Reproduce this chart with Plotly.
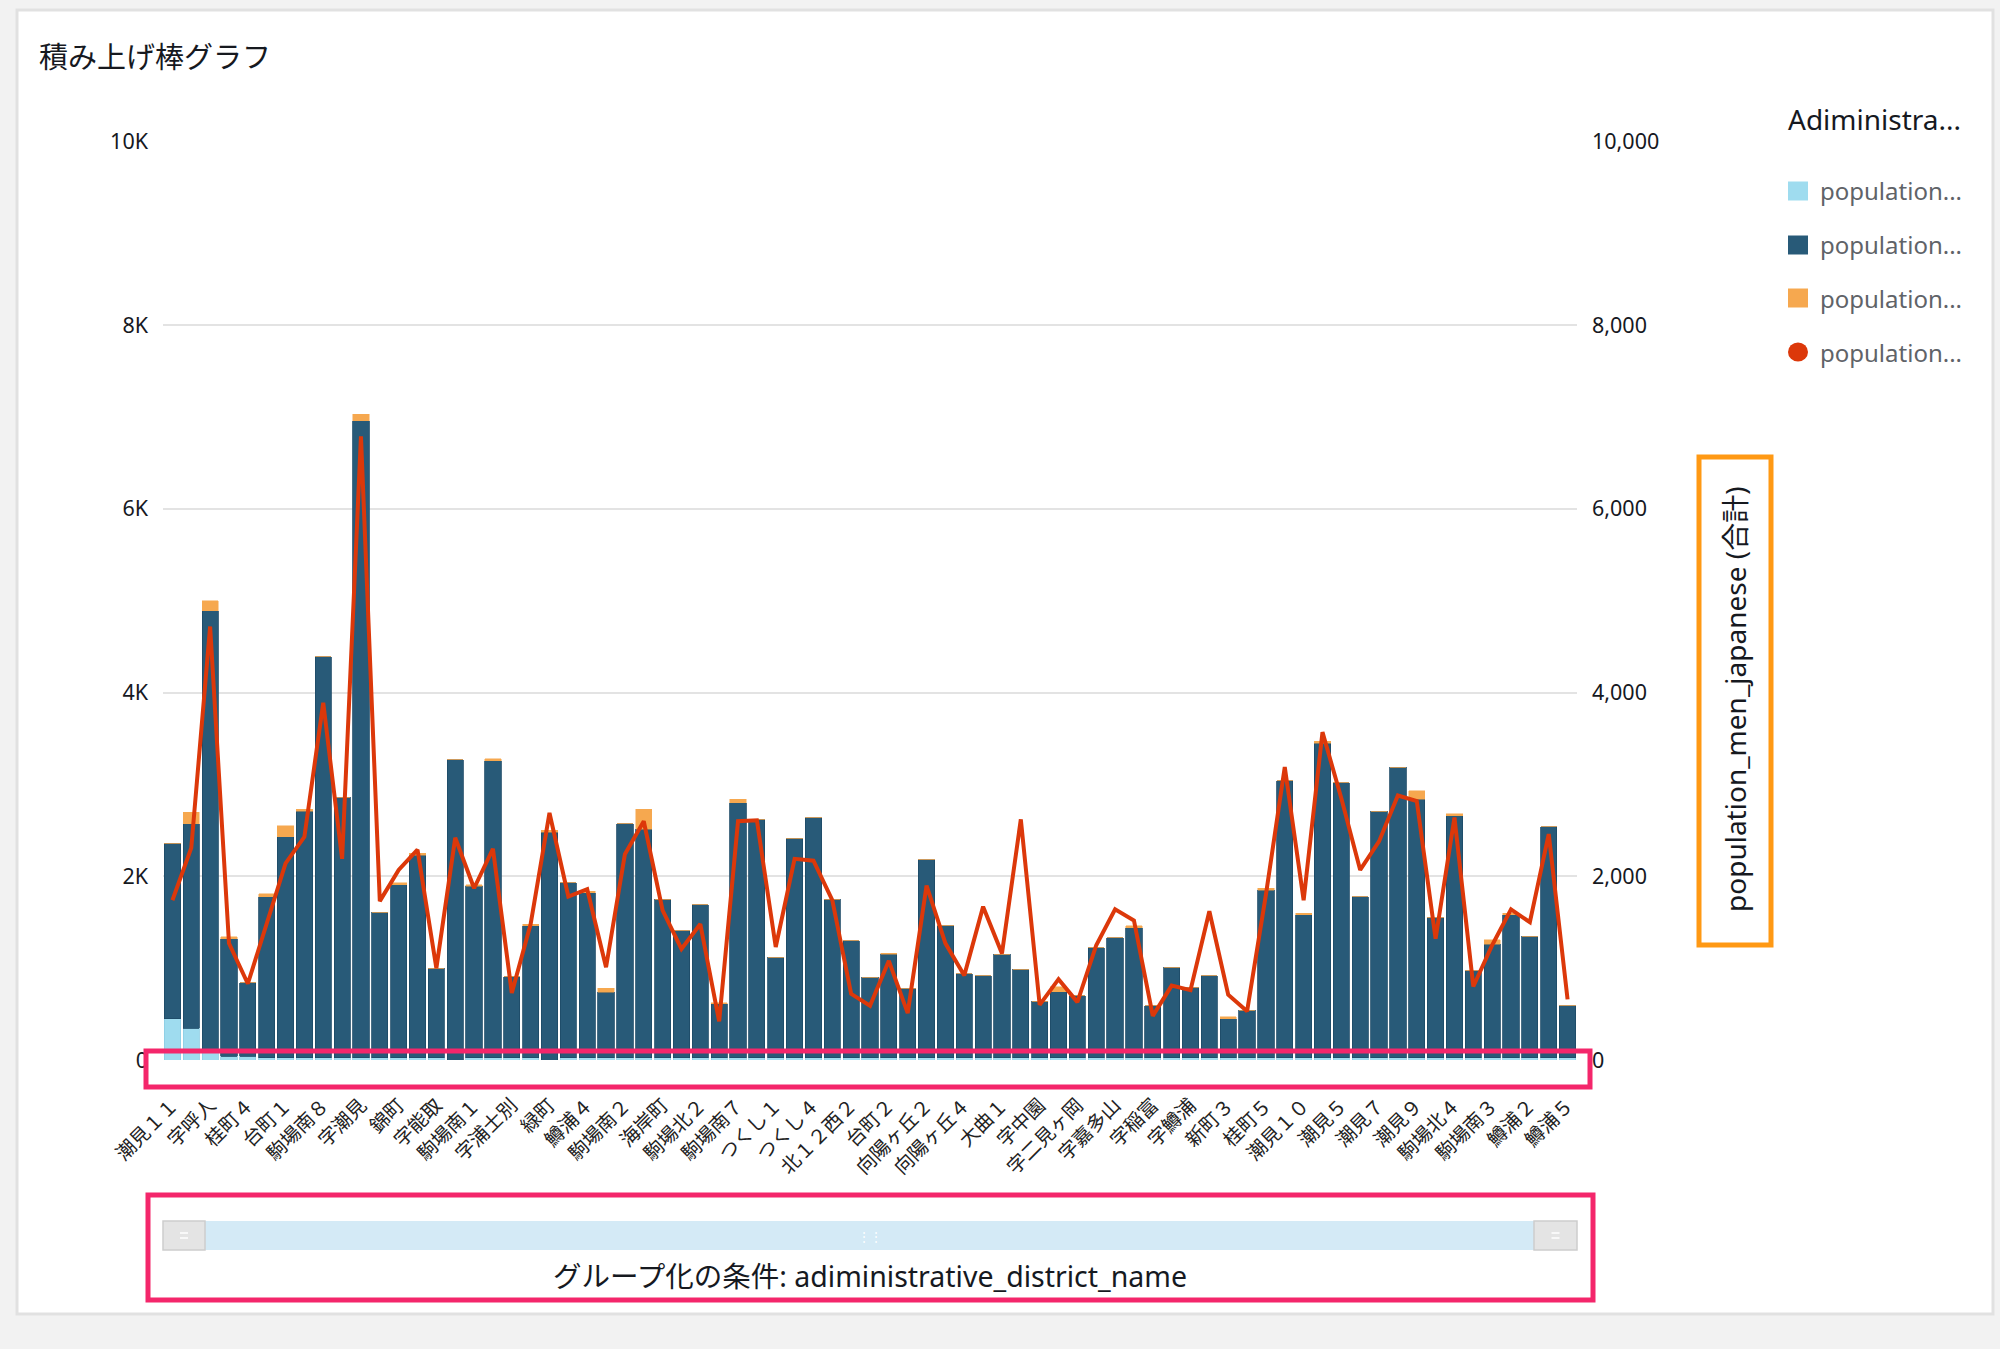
import plotly.graph_objects as go

# ---------------- data ----------------
categories = [
    "潮見１１", "潮見１２", "字呼人", "桂町３", "桂町４", "字藻琴", "台町１", "駒場南９", "駒場南８", "字二ツ岩",
    "字潮見", "南６条東", "錦町", "字八坂", "字能取", "駒場南６", "駒場南１", "字卯原内", "字浦士別", "新町１",
    "緑町", "鱒浦３", "鱒浦４", "駒場南４", "駒場南２", "南４条西", "海岸町", "駒場北１", "駒場北２", "字北浜",
    "駒場南７", "つくし２", "つくし１", "つくし３", "つくし４", "北１２西１", "北１２西２", "台町４", "台町２", "向陽ヶ丘１",
    "向陽ヶ丘２", "向陽ヶ丘３", "向陽ヶ丘４", "大曲２", "大曲１", "字大曲", "字中園", "字三眺", "字二見ヶ岡", "字清浦",
    "字嘉多山", "字丸万", "字稲富", "字山里", "字鱒浦", "新町２", "新町３", "桂町１", "桂町５", "潮見１",
    "潮見１０", "潮見４", "潮見５", "潮見６", "潮見７", "潮見８", "潮見９", "駒場北３", "駒場北４", "駒場南５",
    "駒場南３", "鱒浦１", "鱒浦２", "鱒浦６", "鱒浦５",
]

pop_light = [
    450, 345, 90, 40, 40, 25, 25, 25, 25, 25,
    25, 25, 25, 25, 25, 0, 25, 25, 25, 25,
    0, 25, 25, 25, 25, 25, 25, 25, 25, 25,
    25, 25, 25, 25, 25, 25, 25, 25, 25, 25,
    25, 25, 25, 25, 25, 25, 25, 25, 25, 25,
    25, 25, 25, 25, 25, 25, 25, 25, 25, 25,
    25, 25, 25, 25, 25, 25, 25, 25, 25, 25,
    25, 25, 25, 25, 25,
]

pop_dark = [
    1910, 2225, 4800, 1280, 800, 1755, 2405, 2685, 4365, 2835,
    6935, 1585, 1885, 2205, 975, 3270, 1865, 3235, 880, 1435,
    2480, 1905, 1795, 715, 2545, 2485, 1725, 1385, 1665, 585,
    2775, 2595, 1095, 2390, 2615, 1725, 1275, 875, 1125, 755,
    2155, 1435, 915, 890, 1125, 965, 615, 720, 675, 1195,
    1305, 1415, 565, 985, 765, 895, 425, 515, 1825, 3015,
    1555, 3425, 2995, 1755, 2685, 3165, 2815, 1525, 2635, 945,
    1235, 1555, 1325, 2515, 565,
]

pop_orange = [
    0, 130, 110, 20, 0, 30, 120, 20, 0, 0,
    70, 0, 20, 20, 0, 0, 20, 20, 0, 20,
    20, 0, 20, 40, 0, 220, 0, 0, 0, 15,
    40, 0, 0, 0, 0, 0, 0, 0, 15, 0,
    0, 0, 0, 0, 0, 0, 0, 55, 0, 0,
    0, 20, 0, 0, 0, 0, 20, 0, 20, 0,
    20, 20, 0, 0, 0, 0, 90, 0, 20, 0,
    50, 20, 0, 0, 0,
]

pop_men_japanese = [
    1740, 2310, 4720, 1270, 830, 1480, 2140, 2430, 3890, 2190,
    6790, 1730, 2070, 2290, 1000, 2420, 1870, 2300, 730, 1480,
    2690, 1780, 1860, 1010, 2240, 2600, 1630, 1210, 1480, 420,
    2600, 2610, 1230, 2190, 2170, 1740, 720, 590, 1080, 510,
    1900, 1270, 920, 1670, 1160, 2620, 600, 880, 630, 1250,
    1640, 1520, 480, 810, 760, 1620, 710, 530, 1800, 3190,
    1740, 3570, 2850, 2070, 2380, 2880, 2820, 1320, 2640, 800,
    1250, 1640, 1500, 2460, 660,
]

y_ticks = [0, 2000, 4000, 6000, 8000, 10000]
y_left_text = ["0", "2K", "4K", "6K", "8K", "10K"]
y_right_text = ["0", "2,000", "4,000", "6,000", "8,000", "10,000"]
legend_labels = ["population...", "population...", "population...", "population..."]

# ---------------- style ----------------
W, H = 2000, 1349
FONT = "'Noto Sans', 'Noto Sans CJK JP', sans-serif"
C_LIGHT = "#9fdcef"
C_DARK = "#285a78"
C_ORANGE = "#f6a84f"
C_RED = "#dc380a"
PINK = "#f4266b"


def px(x):
    return x / W


def py(y):
    return 1 - y / H


X_DOM = [px(163), px(1577)]
Y_DOM = [py(1060), py(141.6)]

fig = go.Figure()
fig.add_trace(go.Bar(x=categories, y=pop_light, name=legend_labels[0],
                     marker=dict(color=C_LIGHT, line=dict(color="#8ccde3", width=0.8))))
fig.add_trace(go.Bar(x=categories, y=pop_dark, name=legend_labels[1],
                     marker=dict(color=C_DARK, line=dict(color="#1d4a66", width=0.8))))
fig.add_trace(go.Bar(x=categories, y=pop_orange, name=legend_labels[2],
                     marker=dict(color=C_ORANGE, line=dict(color=C_ORANGE, width=0.5))))
fig.add_trace(go.Scatter(x=categories, y=pop_men_japanese, name=legend_labels[3], yaxis="y2",
                         mode="lines", line=dict(color=C_RED, width=4)))

n = len(categories)
tick_positions = [-0.5] + [i + 0.5 for i in range(0, n, 2)]

fig.update_layout(
    template="none",
    width=W, height=H,
    margin=dict(l=0, r=0, t=0, b=0, pad=0),
    paper_bgcolor="#f2f2f2",
    plot_bgcolor="rgba(0,0,0,0)",
    barmode="stack",
    bargap=0.14,
    showlegend=False,
    font=dict(family=FONT, size=20, color="#16191f"),
    xaxis=dict(
        domain=X_DOM, type="category", range=[-0.5, n - 0.5], automargin=False,
        tickmode="array", tickvals=categories[::2], ticktext=categories[::2],
        tickangle=-45, ticks="", showgrid=False, showline=False, zeroline=False,
        tickfont=dict(size=19.5, color="#222"), ticklabelstandoff=29,
    ),
    xaxis2=dict(
        domain=X_DOM, overlaying="x", anchor="y", type="linear", range=[-0.5, n - 0.5], automargin=False,
        tickmode="array", tickvals=tick_positions, showticklabels=False,
        ticks="outside", ticklen=12, tickwidth=2, tickcolor="#000",
        showline=True, linecolor="#000", linewidth=2, showgrid=False, zeroline=False,
    ),
    yaxis=dict(
        domain=Y_DOM, range=[0, 10000], tickmode="array", tickvals=y_ticks, ticktext=y_left_text,
        automargin=False,
        showgrid=True, gridcolor="#e3e3e3", gridwidth=1.5, zeroline=False, showline=False,
        ticks="", ticklabelstandoff=14, tickfont=dict(size=21.5, color="#16191f"),
    ),
    yaxis2=dict(
        domain=Y_DOM, range=[0, 10000], overlaying="y", side="right", anchor="x", automargin=False,
        tickmode="array", tickvals=y_ticks, ticktext=y_right_text,
        showgrid=False, zeroline=False, showline=False, ticks="", ticklabelstandoff=14,
        tickfont=dict(size=21.5, color="#16191f"),
    ),
)

shapes = []
# card
shapes.append(dict(type="rect", xref="paper", yref="paper", x0=px(17), x1=px(1993), y0=py(1314), y1=py(10),
                   fillcolor="white", line=dict(color="#e1e1e1", width=3), layer="below"))
# scroll bar
shapes.append(dict(type="rect", xref="paper", yref="paper", x0=px(163), x1=px(1577), y0=py(1250), y1=py(1221),
                   fillcolor="#d4eaf6", line=dict(width=0), layer="below"))
for a, b in [(163, 205), (1534, 1577)]:
    shapes.append(dict(type="rect", xref="paper", yref="paper", x0=px(a), x1=px(b), y0=py(1250), y1=py(1221),
                       fillcolor="#e4e4e4", line=dict(color="#cdcdcd", width=1.5), layer="below"))
    cx = (a + b) / 2
    for yy in (1233, 1238):
        shapes.append(dict(type="line", xref="paper", yref="paper", x0=px(cx - 4), x1=px(cx + 4),
                           y0=py(yy), y1=py(yy), line=dict(color="white", width=1.5), layer="below"))
# pink highlight boxes
shapes.append(dict(type="rect", xref="paper", yref="paper", x0=px(146), x1=px(1590), y0=py(1087), y1=py(1051),
                   line=dict(color=PINK, width=5), fillcolor="rgba(0,0,0,0)"))
shapes.append(dict(type="rect", xref="paper", yref="paper", x0=px(148), x1=px(1593), y0=py(1300), y1=py(1195),
                   line=dict(color=PINK, width=5), fillcolor="rgba(0,0,0,0)"))
# orange box around right axis title
shapes.append(dict(type="rect", xref="paper", yref="paper", x0=px(1699), x1=px(1771), y0=py(945), y1=py(457),
                   line=dict(color="#ff9914", width=5), fillcolor="rgba(0,0,0,0)"))
# legend symbols
leg_y = [191, 245, 298, 352]
for yy, col in zip(leg_y[:3], [C_LIGHT, C_DARK, C_ORANGE]):
    shapes.append(dict(type="rect", xref="paper", yref="paper", x0=px(1788), x1=px(1808),
                       y0=py(yy + 9.5), y1=py(yy - 9.5), fillcolor=col, line=dict(width=0)))
shapes.append(dict(type="circle", xref="paper", yref="paper", x0=px(1788), x1=px(1808),
                   y0=py(leg_y[3] + 9.5), y1=py(leg_y[3] - 9.5), fillcolor=C_RED, line=dict(width=0)))

annotations = [
    dict(text="積み上げ棒グラフ", x=px(37), y=py(57), xref="paper", yref="paper", xanchor="left",
         yanchor="middle", showarrow=False, font=dict(size=29, color="#16191f")),
    dict(text="Adiministra...", x=px(1786), y=py(119), xref="paper", yref="paper", xanchor="left",
         yanchor="middle", showarrow=False, font=dict(size=28, color="#16191f")),
    dict(text="population_men_japanese (合計)", x=px(1735), y=py(699), xref="paper", yref="paper",
         xanchor="center", yanchor="middle", textangle=-90, showarrow=False, font=dict(size=28, color="#16191f")),
    dict(text="グループ化の条件: adiministrative_district_name", x=px(870), y=py(1276), xref="paper", yref="paper",
         xanchor="center", yanchor="middle", showarrow=False, font=dict(size=28.5, color="#16191f")),
    dict(text="⋮⋮", x=px(870), y=py(1236), xref="paper", yref="paper", xanchor="center", yanchor="middle",
         showarrow=False, font=dict(size=12, color="white")),
]
for yy, lab in zip(leg_y, legend_labels):
    annotations.append(dict(text=lab, x=px(1818), y=py(yy), xref="paper", yref="paper", xanchor="left",
                            yanchor="middle", showarrow=False, font=dict(size=24, color="#5f6368")))

fig.update_layout(shapes=shapes, annotations=annotations)
fig.write_html("out.html", config={"displayModeBar": False},
               post_script="document.body.style.margin='0';")
